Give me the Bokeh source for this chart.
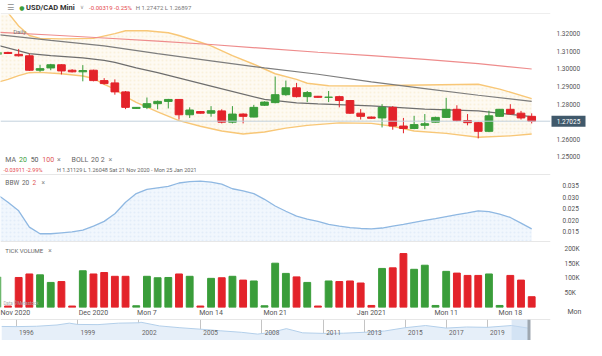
from bokeh.plotting import figure
from bokeh.layouts import column
from bokeh.models import (Range1d, FixedTicker, NumeralTickFormatter, Label, Span,
                          BoxAnnotation, ColumnDataSource, Grid, AllLabels,
                          CustomJSTickFormatter)
from bokeh.embed import file_html
from bokeh.resources import INLINE
from bokeh.core.properties import value

# ---------------- data ----------------
dates = ["2020-11-20", "2020-11-22", "2020-11-23", "2020-11-24", "2020-11-25", "2020-11-26",
         "2020-11-27", "2020-11-29", "2020-11-30", "2020-12-01", "2020-12-02", "2020-12-03",
         "2020-12-04", "2020-12-06", "2020-12-07", "2020-12-08", "2020-12-09", "2020-12-10",
         "2020-12-11", "2020-12-13", "2020-12-14", "2020-12-15", "2020-12-16", "2020-12-17",
         "2020-12-18", "2020-12-20", "2020-12-21", "2020-12-22", "2020-12-23", "2020-12-24",
         "2020-12-27", "2020-12-28", "2020-12-29", "2020-12-30", "2020-12-31", "2021-01-03",
         "2021-01-04", "2021-01-05", "2021-01-06", "2021-01-07", "2021-01-08", "2021-01-10",
         "2021-01-11", "2021-01-12", "2021-01-13", "2021-01-14", "2021-01-15", "2021-01-17",
         "2021-01-18", "2021-01-19", "2021-01-20"]

opens = [1.3082, 1.3093, 1.3082, 1.3074, 1.2992, 1.3005, 1.3023, 1.2992, 1.2983, 1.2992,
         1.2933, 1.2920, 1.2869, 1.2775, 1.2781, 1.2802, 1.2815, 1.2826, 1.2739, 1.2757,
         1.2748, 1.2761, 1.2697, 1.2743, 1.2726, 1.2793, 1.2808, 1.2853, 1.2892, 1.2842,
         1.2844, 1.2838, 1.2842, 1.2820, 1.2748, 1.2726, 1.2721, 1.2781, 1.2675, 1.2661,
         1.2679, 1.2697, 1.2724, 1.2770, 1.2706, 1.2694, 1.2645, 1.2730, 1.2770, 1.2748,
         1.2730]
highs = [1.3105, 1.3097, 1.31129, 1.3086, 1.3023, 1.3028, 1.3026, 1.2998, 1.3021, 1.2995,
         1.2947, 1.2940, 1.2874, 1.2783, 1.2837, 1.2820, 1.2829, 1.2828, 1.2781, 1.2760,
         1.2788, 1.2770, 1.2788, 1.2747, 1.2795, 1.2815, 1.2956, 1.2933, 1.2920, 1.2874,
         1.2846, 1.2874, 1.2847, 1.2822, 1.2771, 1.2729, 1.2799, 1.2788, 1.2721, 1.2733,
         1.2743, 1.2728, 1.2835, 1.2793, 1.2743, 1.2698, 1.2762, 1.2772, 1.2799, 1.2761,
         1.27472]
lows = [1.3075, 1.3084, 1.3070, 1.2988, 1.2983, 1.2992, 1.2968, 1.2979, 1.2929, 1.2929,
        1.2911, 1.2853, 1.2771, 1.2773, 1.2771, 1.2770, 1.2775, 1.2712, 1.2721, 1.2746,
        1.2728, 1.2690, 1.2690, 1.2690, 1.2725, 1.2790, 1.2804, 1.2847, 1.2837, 1.2811,
        1.2836, 1.2811, 1.2781, 1.2744, 1.2712, 1.2716, 1.2667, 1.2654, 1.2634, 1.2657,
        1.2657, 1.2695, 1.2722, 1.2701, 1.2679, 1.26048, 1.2640, 1.2728, 1.2739, 1.2712,
        1.26897]
closes = [1.3093, 1.3087, 1.3074, 1.2992, 1.3001, 1.3023, 1.2988, 1.2983, 1.2990, 1.2933,
          1.2916, 1.2869, 1.2781, 1.2781, 1.2802, 1.2815, 1.2826, 1.2739, 1.2766, 1.2748,
          1.2762, 1.2697, 1.2743, 1.2730, 1.2781, 1.2811, 1.2853, 1.2892, 1.2842, 1.2865,
          1.2838, 1.2839, 1.2820, 1.2748, 1.2730, 1.2719, 1.2781, 1.2675, 1.2661, 1.2683,
          1.2688, 1.2724, 1.2770, 1.2706, 1.2694, 1.2645, 1.2733, 1.2770, 1.2744, 1.2721,
          1.27025]
volume_k = [105, 5, 103, 115, 112, 86, 89, 5, 126, 115, 120, 107, 107, 6, 107, 102, 103,
            115, 107, 5, 100, 102, 107, 94, 91, 6, 152, 117, 105, 86, 5, 91, 89, 91, 84, 7,
            134, 136, 185, 131, 145, 7, 124, 118, 110, 110, 115, 7, 110, 94, 37]
bbw = [0.0313, 0.0279, 0.0242, 0.0171, 0.0142, 0.0142, 0.0146, 0.0150, 0.0158, 0.0175,
       0.0196, 0.0229, 0.0279, 0.0317, 0.0335, 0.0342, 0.0348, 0.0363, 0.0369, 0.0371,
       0.0367, 0.0358, 0.0338, 0.0329, 0.0317, 0.0292, 0.0263, 0.0240, 0.0219, 0.0206,
       0.0196, 0.0183, 0.0175, 0.0169, 0.0165, 0.0163, 0.0167, 0.0175, 0.0183, 0.0192,
       0.0200, 0.0208, 0.0217, 0.0225, 0.0233, 0.0242, 0.0238, 0.0227, 0.0213, 0.0188,
       0.0163]

ma20_idx = [0, 3, 5, 8, 10, 11, 12, 13, 15, 20, 25, 28, 30, 35, 40, 45, 50]
ma20_val = [1.3135, 1.3086, 1.3075, 1.3062, 1.3048, 1.3037, 1.3021, 1.3005, 1.2978, 1.2902,
            1.2826, 1.2807, 1.2801, 1.2790, 1.2771, 1.2761, 1.2728]
ma50_idx = [0, 5, 10, 15, 20, 25, 30, 35, 40, 45, 50]
ma50_val = [1.3195, 1.3162, 1.3130, 1.3086, 1.3045, 1.3005, 1.2969, 1.2926, 1.2888, 1.2850,
            1.2815]
ma100_idx = [0, 5, 10, 15, 20, 25, 30, 35, 40, 45, 50]
ma100_val = [1.3208, 1.3192, 1.3175, 1.3157, 1.3138, 1.3116, 1.3094, 1.3075, 1.3054, 1.3029,
             1.2999]
bb_up_idx = [0, 1, 2, 3, 4, 6, 9, 11, 12, 14, 16, 17, 19, 20, 22, 24, 25, 26, 28, 29, 31,
             35, 38, 45, 47, 50]
bb_up_val = [1.3385, 1.3319, 1.3243, 1.3189, 1.3173, 1.3170, 1.3173, 1.3200, 1.3216, 1.3216,
             1.3205, 1.3189, 1.3151, 1.3130, 1.3075, 1.3026, 1.2999, 1.2972, 1.2940, 1.2918,
             1.2904, 1.2902, 1.2907, 1.2912, 1.2885, 1.2831]
bb_lo_idx = [0, 1, 2, 3, 4, 6, 8, 9, 10, 11, 12, 13, 15, 17, 19, 21, 23, 25, 27, 29, 32,
             35, 37, 39, 42, 45, 48, 50]
bb_lo_val = [1.2923, 1.2940, 1.2961, 1.2978, 1.2980, 1.2972, 1.2959, 1.2945, 1.2912, 1.2885,
             1.2842, 1.2809, 1.2755, 1.2706, 1.2674, 1.2647, 1.2630, 1.2641, 1.2663, 1.2679,
             1.2693, 1.2690, 1.2674, 1.2647, 1.2633, 1.2611, 1.2619, 1.2630]

price_ticks = [1.25, 1.26, 1.28, 1.29, 1.30, 1.31, 1.32]
bbw_ticks = [0.015, 0.020, 0.025, 0.030, 0.035]
vol_ticks_k = [50, 100, 150, 200]
date_tick_pos = [1.6, 9, 14, 20, 26, 35, 42, 48]
date_tick_labels = ["Nov 2020", "Dec 2020", "Mon 7", "Mon 14", "Mon 21", "Jan 2021",
                    "Mon 11", "Mon 18"]
next_monday_pos = 54      # Mon 25 Jan, beyond the last candle
next_monday_label = "Mon"

nav_years = [1995.3, 1996, 1997, 1998, 1998.6, 1999, 2000, 2001, 2002, 2002.1, 2003, 2004,
             2005, 2006, 2007, 2007.8, 2008.5, 2009.2, 2010, 2011, 2012, 2013, 2014, 2015,
             2016.0, 2017, 2018, 2019, 2020.2, 2021.05]
nav_vals = [1.37, 1.36, 1.38, 1.45, 1.55, 1.48, 1.47, 1.55, 1.57, 1.60, 1.40, 1.30, 1.22,
            1.13, 1.05, 0.95, 1.05, 1.25, 1.02, 0.99, 1.00, 1.05, 1.12, 1.30, 1.42, 1.28,
            1.34, 1.32, 1.42, 1.27]
nav_tick_years = [1996, 1999, 2002, 2005, 2008, 2011, 2013, 2015, 2017, 2019]

# ---------------- styling / layout ----------------
W = 586
RB = 36
FW = W - RB
FONT = "Roboto"
GREEN = "#3a9d3a"
RED = "#e3232a"
AX = "#555555"
GREY = "#808080"
SX = W / 602.0


def sx(ref_x):
    return ref_x * SX


idx = list(range(len(dates)))
colors = [GREEN if c >= o else RED for o, c in zip(opens, closes)]
src = ColumnDataSource(dict(
    x=idx, h=highs, l=lows,
    top=[max(o, c) for o, c in zip(opens, closes)],
    bot=[min(o, c) for o, c in zip(opens, closes)],
    color=colors, vol=[v * 1000 for v in volume_k], bbw=bbw))

xr = Range1d(0.3, 51.76)
px_idx = (xr.end - xr.start) / FW     # index units per pixel


def style_right_axis(ax, standoff):
    ax.axis_line_color = None
    ax.major_tick_line_color = None
    ax.minor_tick_line_color = None
    ax.major_tick_out = 0
    ax.major_tick_in = 0
    ax.major_label_text_font = FONT
    ax.major_label_text_font_size = "6.5px"
    ax.major_label_text_color = AX
    ax.major_label_standoff = standoff
    ax.major_label_policy = AllLabels()


def lab(p, x, y, text, color=GREY, size="6.5px", xu="screen", yu="screen",
        font=FONT, style="normal", **kw):
    p.add_layout(Label(x=x, y=y, x_units=xu, y_units=yu, text=text, text_color=color,
                       text_font_size=size, text_font=font, text_font_style=style,
                       text_baseline="middle", text_align="left", **kw))


def new_fig(h, yr, x_range, right=True, **kw):
    p = figure(width=W, height=h, x_range=x_range, y_range=yr, output_backend="svg",
               toolbar_location=None, x_axis_location=kw.pop("xloc", None),
               y_axis_location="right" if right else None,
               min_border_left=0, min_border_right=RB if right else 0,
               min_border_top=0, min_border_bottom=0, **kw)
    p.grid.visible = False
    p.outline_line_color = None
    p.background_fill_color = "white"
    p.border_fill_color = "white"
    return p


# ---------- header ----------
ph = new_fig(14, Range1d(0, 14), Range1d(0, W), right=False)
ph.add_layout(Span(location=0.4, dimension="width", line_color="#d6d6d6", line_width=1))
hy = 7.3
lab(ph, sx(7), hy, "☰", "#8a8a8a", "8px", "data", "data", font="DejaVu Sans")
lab(ph, sx(20.5), hy, "●", GREEN, "6px", "data", "data", font="DejaVu Sans")
lab(ph, sx(28), hy, "USD/CAD Mini", "#333333", "7.5px", "data", "data", style="bold")
lab(ph, sx(87), hy, "∨", "#999999", "5.5px", "data", "data", font="DejaVu Sans")
lab(ph, sx(97), hy, "-0.00319 -0.25%", "#e5484d", "6px", "data", "data")
lab(ph, sx(148), hy, "H 1.27472 L 1.26897", "#777777", "6px", "data", "data")

# ---------- main price panel ----------
pm = new_fig(160, Range1d(1.23997, 1.33085), xr)
band_x = bb_up_idx + bb_lo_idx[::-1]
band_y = bb_up_val + bb_lo_val[::-1]
pm.patch(band_x, band_y, fill_color="#fefaf2", line_color=None,
         hatch_pattern=".", hatch_color="#f1d9a6", hatch_scale=4, hatch_alpha=0.3)
pm.line(bb_up_idx, bb_up_val, line_color="#f8c777", line_width=1.4)
pm.line(bb_lo_idx, bb_lo_val, line_color="#f8c777", line_width=1.4)
pm.line(ma100_idx, ma100_val, line_color="#ee8c8c", line_width=1.2)
pm.line(ma50_idx, ma50_val, line_color="#7d7d7d", line_width=1.2)
pm.line(ma20_idx, ma20_val, line_color="#6e6e6e", line_width=1.2)
pm.add_layout(Span(location=closes[-1], dimension="width", line_color="#c3d1dd",
                   line_width=1))
pm.segment(x0="x", y0="l", x1="x", y1="h", line_color="color", line_width=1, source=src)
pm.vbar(x="x", width=0.72, top="top", bottom="bot", fill_color="color",
        line_color="color", line_width=1, source=src)
pm.yaxis.ticker = FixedTicker(ticks=price_ticks + [closes[-1]])
pm.yaxis.formatter = NumeralTickFormatter(format="0.00000")
style_right_axis(pm.yaxis[0], 6)
# last-price tag on the price scale (drawn above the axis, outside the frame)
tag_w, tag_h = 34, 11
tag_x = xr.end + (tag_w / 2 + 1) * px_idx
r_tag = pm.rect(x=[tag_x], y=[closes[-1]], width=tag_w, height=tag_h,
                width_units="screen", height_units="screen",
                fill_color="#40596b", line_color=None)
r_tag.level = "overlay"
r_txt = pm.text(x=[tag_x], y=[closes[-1]], text=[f"{closes[-1]:.5f}"],
                text_align="center", text_baseline="middle", text_color="white",
                text_font=value(FONT), text_font_size="6.5px")
r_txt.level = "overlay"

lab(pm, sx(13), 143.3, "Daily", "#777777", "6px")
y1, y2 = 14.8, 4.3
lab(pm, sx(5), y1, "MA", "#666666", "7px")
lab(pm, sx(19), y1, "20", GREEN, "7px")
lab(pm, sx(31), y1, "50", "#555555", "7px")
lab(pm, sx(43), y1, "100", "#e05555", "7px")
lab(pm, sx(58), y1, "×", "#888888", "7px")
lab(pm, sx(73), y1, "BOLL", "#666666", "7px")
lab(pm, sx(93), y1, "20", "#666666", "7px")
lab(pm, sx(103), y1, "2", "#666666", "7px")
lab(pm, sx(111), y1, "×", "#888888", "7px")
lab(pm, sx(3), y2, "-0.03911  -2.99%", "#e5484d", "5.5px")
lab(pm, sx(58), y2, "H 1.31129  L 1.26048  Sat 21 Nov 2020 - Mon 25 Jan 2021",
    "#666666", "5.5px")

# ---------- BBW panel ----------
bbw_lo, bbw_hi = 0.01083, 0.04
pb = new_fig(67, Range1d(bbw_lo, bbw_hi), xr)
pb.varea(x="x", y1=bbw_lo, y2="bbw", fill_color="#f1f7fd", hatch_pattern=".",
         hatch_color="#c5dbf1", hatch_scale=4, hatch_alpha=0.35, source=src)
pb.line(x="x", y="bbw", line_color="#8fb8e2", line_width=1.3, source=src)
pb.add_layout(Span(location=bbw_hi, dimension="width", line_color="#cfcfcf", line_width=1))
pb.yaxis.ticker = FixedTicker(ticks=bbw_ticks)
pb.yaxis.formatter = NumeralTickFormatter(format="0.000")
style_right_axis(pb.yaxis[0], 12)
lab(pb, sx(5), 58.7, "BBW", "#666666", "6.5px")
lab(pb, sx(22), 58.7, "20", "#666666", "6.5px")
lab(pb, sx(33), 58.7, "2", "#e05555", "6.5px")
lab(pb, sx(42), 58.7, "×", "#888888", "6.5px")

# ---------- volume panel ----------
vol_top = 226400
pv = new_fig(78, Range1d(0, vol_top), xr, xloc="below")
pv.vbar(x="x", width=0.64, top="vol", bottom=0, fill_color="color", line_color="color",
        source=src)
pv.add_layout(Span(location=vol_top, dimension="width", line_color="#cfcfcf", line_width=1))
pv.yaxis.ticker = FixedTicker(ticks=[v * 1000 for v in vol_ticks_k])
pv.yaxis.formatter = CustomJSTickFormatter(code="return Math.round(tick / 1000) + 'K';")
style_right_axis(pv.yaxis[0], 14)
xa = pv.xaxis[0]
xa.ticker = FixedTicker(ticks=date_tick_pos)
xa.major_label_overrides = dict(zip(date_tick_pos, date_tick_labels))
xa.axis_line_color = None
xa.major_tick_line_color = None
xa.minor_tick_line_color = None
xa.major_tick_out = 0
xa.major_tick_in = 0
xa.major_label_standoff = 1
xa.major_label_text_font = FONT
xa.major_label_text_font_size = "7px"
xa.major_label_text_color = "#555555"
xa.major_label_policy = AllLabels()
r_mon = pv.text(x=[next_monday_pos], y=[-14000], text=[next_monday_label],
                text_align="center", text_baseline="middle", text_color="#555555",
                text_font=value(FONT), text_font_size="7px")
r_mon.level = "overlay"
lab(pv, sx(5), 194000, "TICK VOLUME", "#666666", "6px", yu="data")
lab(pv, sx(49), 194000, "×", "#888888", "6.5px", yu="data")
lab(pv, sx(3), 13500, "Data ©Metastock", "#aaaaaa", "4.5px", yu="data")

# ---------- navigator ----------
nav_lo, nav_hi = 0.6, 1.75
pn = new_fig(21, Range1d(nav_lo, nav_hi), Range1d(1995.24, 2022.1), right=False)
pn.varea(x=nav_years, y1=nav_lo, y2=nav_vals, fill_color="#e6eff9")
pn.line(nav_years, nav_vals, line_color="#b3cfea", line_width=1)
pn.add_layout(Grid(dimension=0, ticker=FixedTicker(ticks=nav_tick_years),
                   grid_line_color="#c4c4c4", grid_line_width=1))
pn.add_layout(Span(location=nav_hi, dimension="width", line_color="#cfcfcf", line_width=1))
pn.add_layout(BoxAnnotation(left=2020.2, right=2021.05, fill_color="#c6dbf0",
                            fill_alpha=0.6, line_color=None))
pn.add_layout(Span(location=2021.05, dimension="height", line_color="#9ea7b0",
                   line_width=3))
pn.text(x=nav_tick_years, y=[1.04] * len(nav_tick_years),
        text=[str(y) for y in nav_tick_years], x_offset=3, text_font=value(FONT),
        text_font_size="6.5px", text_color="#666666", text_baseline="middle")

layout = column(ph, pm, pb, pv, pn, spacing=0)
open("out.html", "w").write(file_html(layout, INLINE, "USD/CAD Mini"))
